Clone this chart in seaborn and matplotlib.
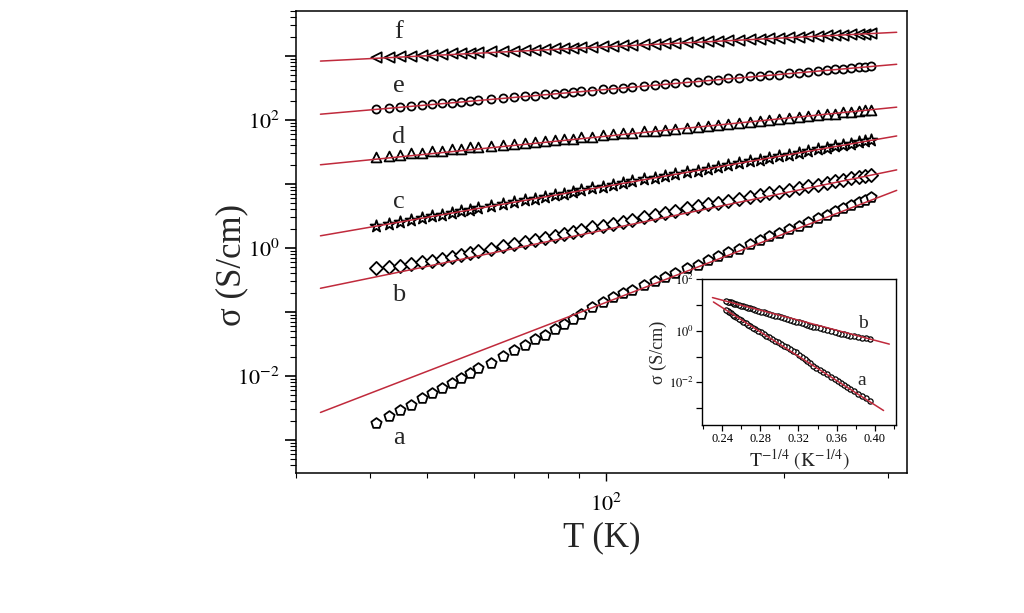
import numpy as np
import pandas as pd
import matplotlib
matplotlib.use('Agg')
import matplotlib.pyplot as plt
import matplotlib.ticker as mticker
import seaborn as sns

# Temperatura (K) comun a todas las muestras
temperature = [41, 43, 45, 47, 49, 51, 53, 55, 57, 59, 61, 64, 67, 70, 73, 76, 79, 82, 85, 88,
               91, 95, 99, 103, 107, 111, 116, 121, 126, 131, 137, 143, 149, 155, 161, 168, 175,
               182, 189, 196, 204, 212, 220, 228, 236, 244, 252, 260, 268, 274, 280]

# log10(sigma / S cm^-1)
log_sigma_a = [-2.74, -2.62, -2.53, -2.46, -2.35, -2.26, -2.19, -2.11, -2.03, -1.95, -1.87, -1.79,
               -1.69, -1.59, -1.51, -1.43, -1.36, -1.27, -1.19, -1.11, -1.03, -0.93, -0.84, -0.77,
               -0.71, -0.65, -0.58, -0.52, -0.45, -0.39, -0.32, -0.26, -0.19, -0.13, -0.07, -0.01,
               0.06, 0.12, 0.18, 0.23, 0.29, 0.35, 0.41, 0.47, 0.52, 0.57, 0.62, 0.67, 0.72, 0.75, 0.79]
log_sigma_b = [-0.32, -0.30, -0.28, -0.25, -0.22, -0.20, -0.17, -0.14, -0.11, -0.08, -0.05, -0.01,
               0.03, 0.06, 0.10, 0.13, 0.16, 0.19, 0.22, 0.25, 0.28, 0.32, 0.35, 0.38, 0.41, 0.44,
               0.48, 0.51, 0.55, 0.58, 0.62, 0.65, 0.68, 0.71, 0.74, 0.77, 0.80, 0.83, 0.86, 0.88,
               0.91, 0.94, 0.97, 0.99, 1.02, 1.04, 1.06, 1.09, 1.11, 1.12, 1.14]
log_sigma_c = [0.34, 0.38, 0.41, 0.44, 0.47, 0.50, 0.52, 0.55, 0.57, 0.60, 0.62, 0.65, 0.69, 0.72,
               0.75, 0.77, 0.80, 0.83, 0.85, 0.88, 0.90, 0.93, 0.96, 0.99, 1.01, 1.04, 1.07, 1.10,
               1.13, 1.15, 1.18, 1.21, 1.24, 1.27, 1.30, 1.33, 1.36, 1.38, 1.41, 1.43, 1.46, 1.49,
               1.51, 1.54, 1.56, 1.59, 1.61, 1.63, 1.65, 1.67, 1.68]
log_sigma_d = [1.42, 1.44, 1.46, 1.48, 1.49, 1.51, 1.52, 1.54, 1.55, 1.57, 1.58, 1.59, 1.61, 1.63,
               1.64, 1.65, 1.67, 1.68, 1.70, 1.71, 1.73, 1.74, 1.76, 1.78, 1.79, 1.80, 1.82, 1.83,
               1.85, 1.86, 1.88, 1.89, 1.91, 1.92, 1.94, 1.96, 1.97, 1.99, 2.00, 2.02, 2.03, 2.05,
               2.06, 2.08, 2.09, 2.10, 2.12, 2.13, 2.14, 2.15, 2.16]
log_sigma_e = [2.17, 2.19, 2.20, 2.22, 2.23, 2.25, 2.26, 2.27, 2.28, 2.30, 2.31, 2.32, 2.34, 2.36,
               2.37, 2.38, 2.40, 2.41, 2.42, 2.44, 2.45, 2.46, 2.48, 2.49, 2.50, 2.52, 2.53, 2.55,
               2.56, 2.57, 2.59, 2.60, 2.62, 2.63, 2.65, 2.66, 2.68, 2.69, 2.70, 2.71, 2.73, 2.74,
               2.75, 2.77, 2.78, 2.79, 2.80, 2.81, 2.82, 2.83, 2.84]
log_sigma_f = [2.98, 2.99, 3.00, 3.00, 3.01, 3.02, 3.03, 3.04, 3.04, 3.05, 3.06, 3.07, 3.08, 3.08,
               3.09, 3.10, 3.11, 3.12, 3.12, 3.13, 3.14, 3.14, 3.15, 3.16, 3.17, 3.17, 3.18, 3.19,
               3.20, 3.21, 3.22, 3.22, 3.23, 3.24, 3.25, 3.25, 3.26, 3.27, 3.28, 3.28, 3.29, 3.30,
               3.31, 3.31, 3.32, 3.33, 3.33, 3.34, 3.35, 3.35, 3.36]

# Ajustes de ley de potencia (extremos de cada recta)
fit_T = [33, 310]
fit_log = {
    'a': [-2.57, 0.90],
    'b': [-0.63, 1.22],
    'c': [0.19, 1.75],
    'd': [1.30, 2.20],
    'e': [2.09, 2.87],
    'f': [2.92, 3.37],
}

# Ajustes VRH del recuadro (T^-1/4 vs sigma)
inset_fit_x = {'a': [0.231, 0.409], 'b': [0.230, 0.415]}
inset_fit_log = {'a': [1.11, -3.09], 'b': [1.28, -0.52]}

series = {'a': log_sigma_a, 'b': log_sigma_b, 'c': log_sigma_c,
          'd': log_sigma_d, 'e': log_sigma_e, 'f': log_sigma_f}
markers = {'a': 'p', 'b': 'D', 'c': '*', 'd': '^', 'e': 'o', 'f': '<'}
sizes = {'a': 60, 'b': 45, 'c': 80, 'd': 50, 'e': 34, 'f': 55}
label_pos = {'a': -2.97, 'b': -0.73, 'c': 0.72, 'd': 1.73, 'e': 2.53, 'f': 3.38}

red = '#c02a3c'

sns.set_theme(style='ticks')
plt.rcParams['font.family'] = ['Liberation Serif', 'DejaVu Serif']
plt.rcParams['mathtext.fontset'] = 'stix'

fig = plt.figure(figsize=(10.24, 6.13), dpi=100)
ax = fig.add_axes([0.289, 0.2284, 0.597, 0.7537])
ax.set_xscale('log')
ax.set_yscale('log')

T = np.array(temperature, dtype=float)
for key, logs in series.items():
    df = pd.DataFrame({'T': T, 'sigma': 10 ** np.array(logs)})
    sns.scatterplot(data=df, x='T', y='sigma', marker=markers[key], s=sizes[key],
                    facecolor='white', edgecolor='black', linewidth=1.3, ax=ax, zorder=2)
    sns.lineplot(x=fit_T, y=10 ** np.array(fit_log[key]), color=red, lw=1.1,
                 ax=ax, zorder=3, estimator=None)
    ax.text(44.8, 10 ** label_pos[key], key, fontsize=19, ha='center', va='center')

ax.set_xlim(30, 323)
ax.set_ylim(10 ** -3.516, 10 ** 3.703)

ax.xaxis.set_major_locator(mticker.FixedLocator([100]))
ax.xaxis.set_major_formatter(mticker.FixedFormatter(['$10^{2}$']))
ax.xaxis.set_minor_locator(mticker.LogLocator(base=10, subs=np.arange(2, 10), numticks=20))
ax.xaxis.set_minor_formatter(mticker.NullFormatter())

def even_decades(v, pos):
    e = int(round(np.log10(v)))
    return f'$10^{{{e}}}$' if e % 2 == 0 else ''

ax.yaxis.set_major_locator(mticker.LogLocator(base=10, numticks=20))
ax.yaxis.set_major_formatter(mticker.FuncFormatter(even_decades))
ax.yaxis.set_minor_locator(mticker.LogLocator(base=10, subs=np.arange(2, 10), numticks=20))
ax.yaxis.set_minor_formatter(mticker.NullFormatter())

ax.tick_params(which='both', direction='out', top=False, right=False, colors='black')
ax.tick_params(axis='y', which='major', length=8, width=1.2, labelsize=16)
ax.tick_params(axis='y', which='minor', length=4.5, width=0.8)
ax.tick_params(axis='x', which='major', length=6, width=1.0, labelsize=16, pad=9)
ax.tick_params(axis='x', which='minor', length=3.5, width=0.8)
for sp in ax.spines.values():
    sp.set_visible(True)
    sp.set_color('black')
    sp.set_linewidth(1.1)

ax.set_xlabel('T (K)', fontsize=25, labelpad=4)
ax.set_ylabel('σ (S/cm)', fontsize=25)
ax.yaxis.set_label_coords(-0.078, 0.45)

# Recuadro VRH
axi = fig.add_axes([0.6855, 0.3067, 0.1895, 0.2382])
axi.set_yscale('log')
for key in ['a', 'b']:
    dfi = pd.DataFrame({'x': T ** -0.25, 'sigma': 10 ** np.array(series[key])})
    sns.scatterplot(data=dfi, x='x', y='sigma', marker='o', s=14, facecolor='white',
                    edgecolor='black', linewidth=0.9, ax=axi, zorder=2)
    sns.lineplot(x=inset_fit_x[key], y=10 ** np.array(inset_fit_log[key]), color=red,
                 lw=1.1, ax=axi, zorder=3, estimator=None)
axi.text(0.387, 10 ** 0.27, 'b', fontsize=14, ha='center', va='center')
axi.text(0.386, 10 ** -1.92, 'a', fontsize=14, ha='center', va='center')

axi.set_xlim(0.219, 0.422)
axi.set_ylim(10 ** -3.65, 10 ** 2.0)
axi.xaxis.set_major_locator(mticker.FixedLocator([0.24, 0.28, 0.32, 0.36, 0.40]))
axi.xaxis.set_major_formatter(mticker.FormatStrFormatter('%.2f'))
axi.xaxis.set_minor_locator(mticker.FixedLocator([0.22, 0.26, 0.30, 0.34, 0.38, 0.42]))
axi.yaxis.set_major_locator(mticker.LogLocator(base=10, numticks=20))
axi.yaxis.set_major_formatter(mticker.FuncFormatter(even_decades))
axi.yaxis.set_minor_locator(mticker.NullLocator())
axi.tick_params(which='both', direction='out', top=False, right=False, colors='black')
axi.tick_params(which='major', length=4, width=0.9, labelsize=9, pad=2)
axi.tick_params(which='minor', length=3, width=0.8)
for sp in axi.spines.values():
    sp.set_visible(True)
    sp.set_color('black')
    sp.set_linewidth(1.0)
axi.set_xlabel('$\\mathrm{T}^{-1/4}$ $(\\mathrm{K}^{-1/4})$', fontsize=14, labelpad=1)
axi.set_ylabel('σ (S/cm)', fontsize=13, labelpad=1)

fig.savefig('out.png', dpi=100)
